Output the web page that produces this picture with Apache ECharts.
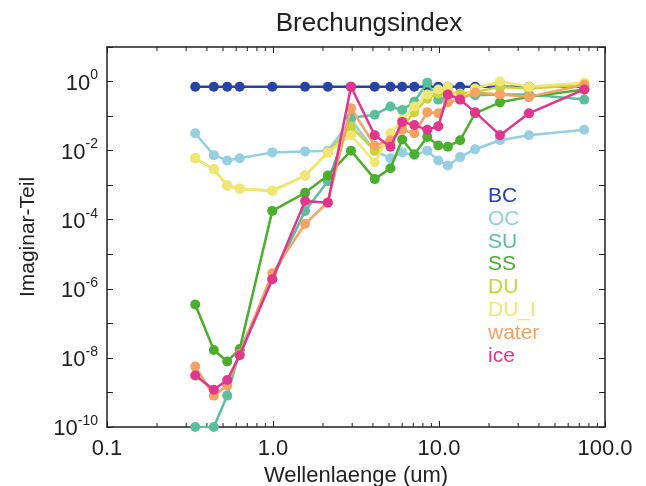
<!DOCTYPE html>
<html>
<head>
<meta charset="utf-8">
<script src="https://cdn.jsdelivr.net/npm/echarts@6/dist/echarts.min.js"></script>
<style>
  html, body { margin: 0; padding: 0; background: #fff; }
  #chart { width: 646px; height: 486px; }
</style>
</head>
<body>
<div id="chart"></div>
<script>
// Wellenlaengen (um)
const wavelength = [0.34, 0.44, 0.53, 0.63, 0.99, 1.56, 2.14, 2.95, 4.1, 5.1, 6.0, 7.1, 8.5, 9.9, 11.3, 13.4, 16.5, 23.3, 34.8, 75];

const names = ['BC', 'OC', 'SU', 'SS', 'DU', 'DU_I', 'water', 'ice'];
const colors = ['#2743a6', '#94cfe2', '#5cbf9c', '#4cae2e', '#c9d43a', '#f2e672', '#f7a262', '#e0368f'];

const bc = [0.71, 0.71, 0.71, 0.71, 0.71, 0.71, 0.71, 0.71, 0.71, 0.71, 0.71, 0.71, 0.71, 0.71, 0.71, 0.71, 0.71, 0.71, 0.71, 0.71];
const oc = [0.032, 0.0074, 0.0052, 0.006, 0.0089, 0.0095, 0.010, 0.078, 0.010, 0.006, 0.0089, 0.0074, 0.010, 0.0052, 0.0037, 0.0065, 0.011, 0.020, 0.028, 0.040];
const su = [1e-10, 1e-10, 8.1e-10, 1.6e-8, 1.9e-6, 1.8e-4, 1.3e-3, 0.089, 0.11, 0.19, 0.15, 0.26, 0.93, 0.30, 0.35, 0.40, 0.40, 0.42, 0.42, 0.30];
const ss = [3.5e-7, 1.7e-8, 7.9e-9, 1.8e-8, 1.8e-4, 6.0e-4, 1.9e-3, 0.010, 1.5e-3, 3.1e-3, 0.021, 7.9e-3, 0.025, 0.014, 0.013, 0.020, 0.12, 0.25, 0.36, 0.59];
const du = [6.0e-3, 2.9e-3, 9.8e-4, 7.9e-4, 6.9e-4, 1.9e-3, 8.9e-3, 0.050, 0.010, 0.018, 0.050, 0.13, 0.32, 0.45, 0.50, 0.45, 0.50, 0.70, 0.63, 0.79];
const duI = [6.0e-3, 2.9e-3, 9.8e-4, 7.9e-4, 6.9e-4, 1.9e-3, 8.9e-3, 0.028, 4.6e-3, 0.032, 0.078, 0.19, 0.42, 0.59, 0.71, 0.30, 0.63, 1.0, 0.71, 0.93];
const water = [5.6e-9, 8.1e-10, 1.6e-9, 1.3e-8, 2.8e-6, 7.6e-5, 3.2e-4, 0.17, 0.014, 0.020, 0.040, 0.032, 0.13, 0.12, 0.25, 0.32, 0.48, 0.42, 0.36, 0.81];
const ice = [3.1e-9, 1.2e-9, 2.3e-9, 1.2e-8, 1.9e-6, 3.5e-4, 3.1e-4, 0.71, 0.028, 0.013, 0.068, 0.055, 0.040, 0.051, 0.42, 0.30, 0.13, 0.028, 0.12, 0.59];

const values = [bc, oc, su, ss, du, duI, water, ice];

// Nebenstriche der x-Achse (2..9 je Dekade)
const xMinor = [];
[0.1, 1, 10].forEach(d => { for (let k = 2; k <= 9; k++) xMinor.push(d * k); });

const chart = echarts.init(document.getElementById('chart'));

const series = names.map((name, i) => ({
  name: name,
  type: 'line',
  data: wavelength.map((w, j) => [w, values[i][j]]),
  symbol: 'circle',
  symbolSize: 10,
  color: colors[i],
  lineStyle: { width: 2.5 },
  z: 2 + i
}));

const txt = '#222';
const font = 'Liberation Sans, Arial, Helvetica, sans-serif';

chart.setOption({
  animation: false,
  backgroundColor: '#fff',
  textStyle: { fontFamily: font },
  title: {
    text: 'Brechungsindex',
    left: 364,
    top: 6,
    textAlign: 'center',
    textStyle: { fontSize: 26, fontWeight: 'normal', color: txt, fontFamily: font }
  },
  legend: {
    orient: 'vertical',
    left: 478,
    top: 180,
    itemWidth: 0,
    itemHeight: 22,
    itemGap: 1.4,
    itemStyle: { opacity: 0 },
    lineStyle: { opacity: 0 },
    selectedMode: false,
    textStyle: { fontSize: 21, fontFamily: font },
    data: names.map((n, i) => ({ name: n, icon: 'none', textStyle: { color: colors[i] } }))
  },
  grid: { left: 107, right: 41, top: 47, bottom: 59, outerBoundsMode: 'none', containLabel: false },
  xAxis: [{
    type: 'log',
    logBase: 10,
    min: 0.1,
    max: 100,
    interval: 1,
    name: 'Wellenlaenge (um)',
    nameLocation: 'middle',
    nameGap: 37,
    nameTextStyle: { fontSize: 22, color: txt },
    axisLine: { lineStyle: { color: '#222', width: 1.5 } },
    axisTick: { inside: true, length: 6, lineStyle: { color: '#222' } },
    splitLine: { show: false },
    axisLabel: {
      fontSize: 22, color: txt, margin: 11,
      formatter: v => Number(v).toFixed(1)
    }
  }, {
    type: 'log',
    logBase: 10,
    min: 0.1,
    max: 100,
    interval: 1,
    position: 'top',
    axisLine: { lineStyle: { color: '#222', width: 1.5 } },
    axisTick: { inside: true, length: 6, lineStyle: { color: '#222' } },
    splitLine: { show: false },
    axisLabel: { show: false }
  }],
  yAxis: [{
    type: 'log',
    logBase: 10,
    min: 1e-10,
    max: 10,
    interval: 1,
    name: 'Imaginar-Teil',
    nameLocation: 'middle',
    nameGap: 68,
    nameTextStyle: { fontSize: 21, color: txt },
    axisLine: { show: true, lineStyle: { color: '#222', width: 1.5 } },
    axisTick: { show: true, inside: true, length: 6, lineStyle: { color: '#222' } },
    splitLine: { show: false },
    axisLabel: {
      margin: 9,
      formatter: v => {
        const e = Math.round(Math.log10(v));
        if (e % 2 !== 0) return '';
        return '{b|10}{s|' + e + '}';
      },
      rich: {
        b: { fontSize: 22, color: txt, verticalAlign: 'bottom', lineHeight: 26 },
        s: { fontSize: 14, color: txt, verticalAlign: 'top', lineHeight: 26 }
      }
    }
  }, {
    type: 'log',
    logBase: 10,
    min: 1e-10,
    max: 10,
    interval: 1,
    position: 'right',
    axisLine: { show: true, lineStyle: { color: '#222', width: 1.5 } },
    axisTick: { show: true, inside: true, length: 6, lineStyle: { color: '#222' } },
    splitLine: { show: false },
    axisLabel: { show: false }
  }],
  series: series
});

// Nebenstriche ueber die Achsenskala der Bibliothek platzieren
const yBottom = chart.convertToPixel({ yAxisIndex: 0 }, 1e-10);
const yTop = chart.convertToPixel({ yAxisIndex: 0 }, 10);
const ticks = [];
xMinor.forEach(v => {
  const x = chart.convertToPixel({ xAxisIndex: 0 }, v);
  ticks.push({ type: 'line', shape: { x1: x, y1: yBottom, x2: x, y2: yBottom - 4 }, style: { stroke: '#222', lineWidth: 1 } });
  ticks.push({ type: 'line', shape: { x1: x, y1: yTop, x2: x, y2: yTop + 4 }, style: { stroke: '#222', lineWidth: 1 } });
});
chart.setOption({ graphic: ticks });
</script>
</body>
</html>
